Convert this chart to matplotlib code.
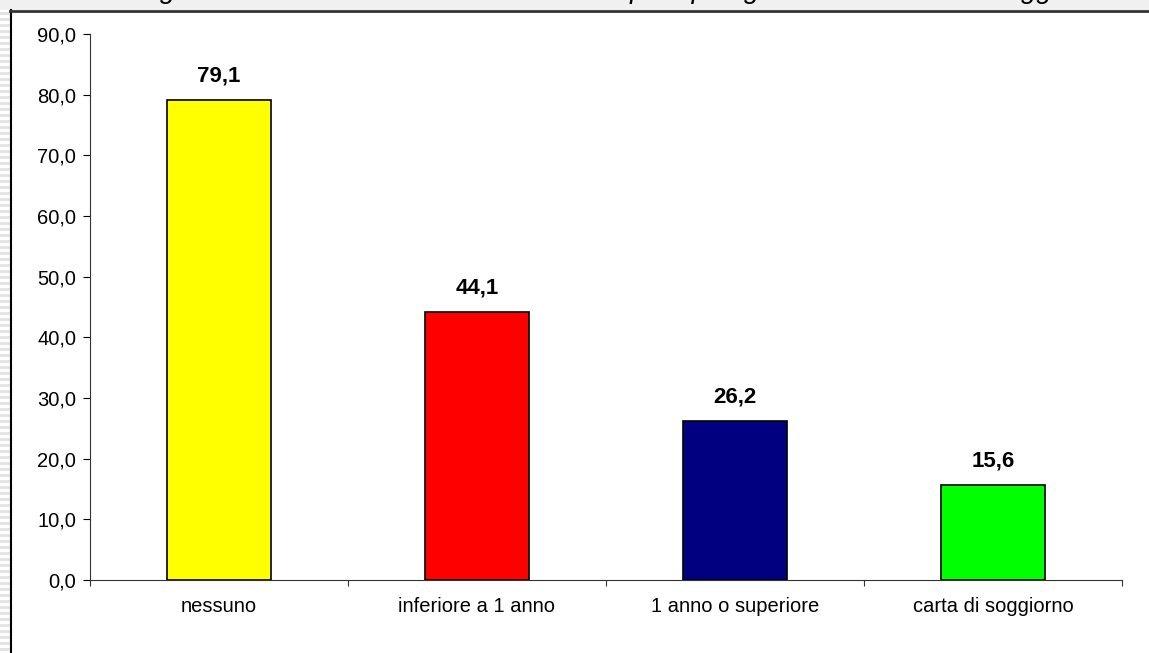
import matplotlib.pyplot as plt
from matplotlib.patches import Rectangle
from matplotlib.lines import Line2D

categories = ["nessuno", "inferiore a 1 anno", "1 anno o superiore", "carta di soggiorno"]
values = [79.1, 44.1, 26.2, 15.6]
bar_colors = ["#ffff00", "#ff0000", "#000080", "#00ff00"]
yticks = [0, 10, 20, 30, 40, 50, 60, 70, 80, 90]

plt.rcParams["font.family"] = ["Liberation Sans", "DejaVu Sans"]

W, H = 1149, 653
fig = plt.figure(figsize=(W / 100, H / 100), dpi=100)

# striped slide background on the left edge, light strip on top
for y in range(0, H, 6):
    fig.patches.append(Rectangle((0, 1 - (y + 3) / H), 10 / W, 3 / H,
                                 transform=fig.transFigure, color="#e4e4e4", lw=0))
fig.patches.append(Rectangle((0, 1 - 10 / H), 1, 10 / H,
                             transform=fig.transFigure, color="#f0f0f0", lw=0))

# italic slide title, mostly cut off by the top edge
fig.text(-0.01, 1 + 2 / H,
         "Stranieri: categorie escluse dall'assistenza sanitaria per tipologia di documento di soggiorno",
         fontsize=20, style="italic", ha="left", va="baseline", color="black")

# chart frame
fig.add_artist(Line2D([10.5 / W, 10.5 / W], [0, 1 - 10 / H], transform=fig.transFigure,
                      color="black", lw=1.5))
fig.add_artist(Line2D([10 / W, 1], [1 - 10.5 / H, 1 - 10.5 / H], transform=fig.transFigure,
                      color="#333333", lw=2))

ax = fig.add_axes([90 / W, 1 - 580 / H, (1122 - 90) / W, (580 - 34) / H])
x = range(len(categories))
ax.bar(x, values, width=0.4, color=bar_colors, edgecolor="black", linewidth=1.2, zorder=3)

for xi, v in zip(x, values):
    ax.text(xi, v + 2.3, f"{v:.1f}".replace(".", ","), ha="center", va="bottom",
            fontsize=16, fontweight="bold")

ax.set_xlim(-0.5, 3.5)
ax.set_ylim(0, 90)
ax.set_yticks(yticks)
ax.set_yticklabels([f"{t:.1f}".replace(".", ",") for t in yticks], fontsize=14.5)
ax.set_xticks([i - 0.5 for i in range(len(categories) + 1)])
ax.set_xticklabels([])
ax.set_xticks(list(x), minor=True)
ax.set_xticklabels(categories, minor=True, fontsize=14.5)
ax.tick_params(axis="x", which="minor", length=0, pad=12)
ax.tick_params(axis="x", which="major", length=4, direction="out", color="#333333")
ax.tick_params(axis="y", length=5, direction="out", pad=5)

for s in ["top", "right"]:
    ax.spines[s].set_visible(False)
ax.spines["left"].set_color("#333333")
ax.spines["bottom"].set_color("#333333")

fig.savefig("out.png", dpi=100)
